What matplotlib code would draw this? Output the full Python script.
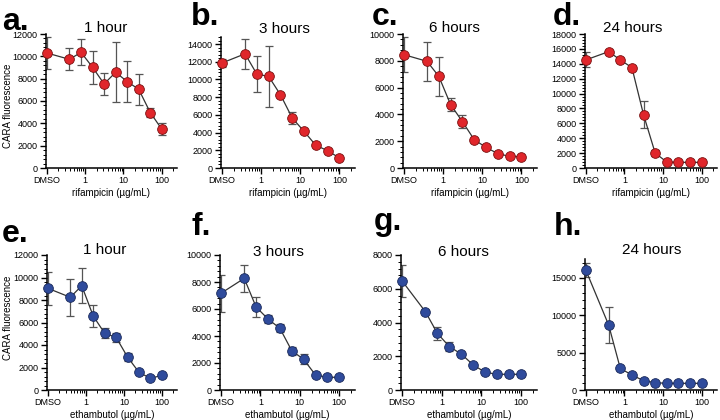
import numpy as np
import matplotlib
matplotlib.use("Agg")
import matplotlib.pyplot as plt
from matplotlib.ticker import AutoMinorLocator, LogLocator, NullFormatter, FixedLocator

plt.rcParams['font.family'] = ['Liberation Sans', 'DejaVu Sans']

# doses, DMSO plotted at 0.1
doses = [0.1, 0.39, 0.78, 1.56, 3.125, 6.25, 12.5, 25, 50, 100]

# rifampicin
rif_1h = [10300, 9730, 10360, 9020, 7530, 8570, 7740, 7050, 4970, 3480]
rif_1h_err = [1400, 980, 1170, 1480, 1000, 2700, 1800, 1400, 420, 560]
rif_3h = [11860, 12900, 10610, 10350, 8280, 5650, 4140, 2560, 1960, 1130]
rif_3h_err = [400, 1700, 2030, 3460, 200, 650, 150, 100, 100, 150]
rif_6h = [8460, 7960, 6840, 4730, 3460, 2110, 1540, 1070, 870, 850]
rif_6h_err = [1300, 1450, 1450, 500, 470, 100, 100, 80, 80, 80]
rif_24h = [14520, 15630, 14520, 13490, 7150, 2010, 800, 760, 760, 760]
rif_24h_err = [1000, 200, 300, 200, 1800, 450, 100, 80, 80, 80]

# ethambutol
emb_1h = [9040, 8240, 9270, 6580, 5040, 4680, 2930, 1570, 1040, 1300]
emb_1h_err = [1480, 1650, 1570, 1020, 430, 430, 330, 100, 100, 100]
emb_3h = [7160, 8270, 6150, 5260, 4570, 2910, 2270, 1110, 940, 940]
emb_3h_err = [1350, 1000, 770, 300, 300, 310, 370, 100, 80, 80]
emb_6h = [6480, 4640, 3360, 2570, 2130, 1480, 1050, 930, 930, 930]
emb_6h_err = [950, 100, 400, 280, 100, 100, 80, 80, 80, 80]
emb_24h = [16000, 8680, 2890, 2000, 1250, 980, 890, 890, 890, 890]
emb_24h_err = [900, 2400, 200, 150, 100, 80, 80, 80, 80, 80]

red = '#e0262b'
blue = '#2f4b9c'

panels = [
    # letter, title, y, err, color, drug, ymax, ystep, ytick top,
    # axes left/right/top/bottom (px), letter x/baseline (px), title x/y (px)
    ('a.', '1 hour', rif_1h, rif_1h_err, red, 'rifampicin', 12000, 2000, 12000,
     46, 177, 34, 168, 2, 30, 106, 28),
    ('b.', '3 hours', rif_3h, rif_3h_err, red, 'rifampicin', 14800, 2000, 14000,
     221, 355, 37, 168, 191, 25, 284, 29),
    ('c.', '6 hours', rif_6h, rif_6h_err, red, 'rifampicin', 10000, 2000, 10000,
     403, 537, 34, 168, 372, 25, 454, 28),
    ('d.', '24 hours', rif_24h, rif_24h_err, red, 'rifampicin', 18000, 2000, 18000,
     585, 717, 34, 168, 553, 25, 633, 28),
    ('e.', '1 hour', emb_1h, emb_1h_err, blue, 'ethambutol', 12000, 2000, 12000,
     47, 177, 255, 390, 2, 242, 105, 250),
    ('f.', '3 hours', emb_3h, emb_3h_err, blue, 'ethambutol', 10000, 2000, 10000,
     220, 355, 255, 390, 192, 235, 278, 252),
    ('g.', '6 hours', emb_6h, emb_6h_err, blue, 'ethambutol', 8000, 2000, 8000,
     401, 537, 255, 390, 374, 230, 463, 252),
    ('h.', '24 hours', emb_24h, emb_24h_err, blue, 'ethambutol', 17500, 5000, 15000,
     585, 717, 259, 390, 554, 235, 652, 250),
]

W, H = 720, 420
fig = plt.figure(figsize=(7.2, 4.2), dpi=100)

for (letter, title, y, err, col, drug, ymax, ystep, ytop,
     l, r, top, bot, lx, ly, tx, ty) in panels:
    ax = fig.add_axes([l / W, 1 - bot / H, (r - l) / W, (bot - top) / H])
    ax.errorbar(doses, y, yerr=err, fmt='none', ecolor='#555555', elinewidth=0.9,
                capsize=3, capthick=0.9, zorder=2)
    ax.plot(doses, y, '-', color='#333333', lw=0.9, zorder=3)
    ax.plot(doses, y, 'o', color=col, mec='#7a1010' if col == red else '#1a2a5a',
            mew=0.6, ms=7, zorder=4, clip_on=False)
    ax.set_xscale('log')
    ax.set_xlim(0.095, 250)
    ax.set_ylim(0, ymax)
    ax.xaxis.set_major_locator(FixedLocator([0.1, 1, 10, 100]))
    ax.set_xticklabels(['DMSO', '1', '10', '100'])
    ax.xaxis.set_minor_locator(LogLocator(base=10, subs=np.arange(2, 10), numticks=10))
    ax.xaxis.set_minor_formatter(NullFormatter())
    ax.set_yticks(np.arange(0, ytop + 1, ystep))
    ax.yaxis.set_minor_locator(AutoMinorLocator(5))
    ax.spines['top'].set_visible(False)
    ax.spines['right'].set_visible(False)
    for s in ['left', 'bottom']:
        ax.spines[s].set_linewidth(1.1)
    ax.tick_params(which='major', length=4, width=1, labelsize=6.5, pad=2)
    ax.tick_params(which='minor', length=2, width=0.7)
    ax.set_xlabel(drug + ' (\u00b5g/mL)', fontsize=7, labelpad=2)
    if letter in ('a.', 'e.'):
        cy = 106 if letter == 'a.' else 318
        fig.text(8 / W, 1 - cy / H, 'CARA fluorescence', rotation=90,
                 fontsize=7, ha='center', va='center')
    fig.text(tx / W, 1 - ty / H, title, fontsize=11, ha='center', va='center')
    fig.text(lx / W, 1 - ly / H, letter, fontsize=23,
             fontweight='bold', ha='left', va='baseline')

fig.savefig('out.png', dpi=100)
